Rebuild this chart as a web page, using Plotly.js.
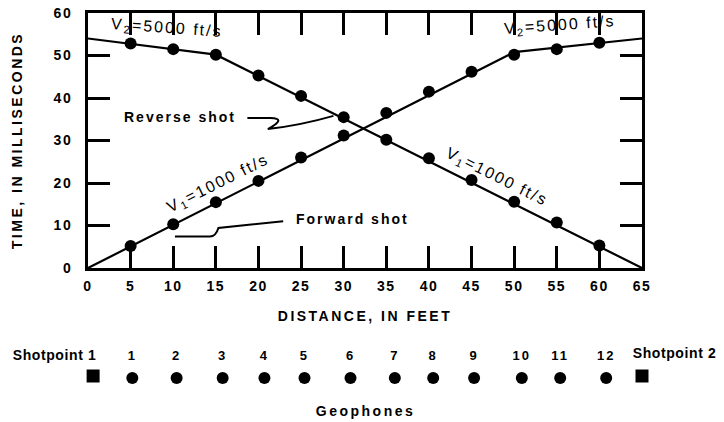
<!DOCTYPE html>
<html>
<head>
<meta charset="utf-8">
<script src="https://cdn.plot.ly/plotly-3.0.1.min.js"></script>
<style>
  html, body { margin: 0; padding: 0; background: #fff; }
  #chart { width: 724px; height: 422px; }
  .xtick text, .ytick text { letter-spacing: 1.5px; }
  .g-xtitle text, .g-ytitle text { letter-spacing: 2.5px; }
  .annotation-text { letter-spacing: 2px; }
  .annotation[data-index="6"] text, .annotation[data-index="7"] text { letter-spacing: 0.6px; }
  .annotation[data-index="8"] text { letter-spacing: 2.5px; }
  .textpoint text { letter-spacing: 2px; }
</style>
</head>
<body>
<div id="chart"></div>
<script>
// Geophone distances from shotpoint 1 (feet)
const distance = [5, 10, 15, 20, 25, 30, 35, 40, 45, 50, 55, 60];

// First-arrival times (ms) picked at each geophone
const forwardTime = [5.2, 10.3, 15.5, 20.5, 26.0, 31.2, 36.5, 41.5, 46.2, 50.2, 51.5, 53.0];
const reverseTime = [52.8, 51.5, 50.2, 45.3, 40.5, 35.5, 30.2, 25.8, 20.7, 15.6, 10.7, 5.3];

// Fitted travel-time segments (V1 = 1000 ft/s, V2 = 5000 ft/s)
const forwardFitX = [0, 50, 65];
const forwardFitY = [0, 50.8, 54];
const reverseFitX = [0, 15, 65];
const reverseFitY = [54, 50.2, 0];

// Spread layout drawn under the plot
const geophoneNumbers = ['1', '2', '3', '4', '5', '6', '7', '8', '9', '10', '11', '12'];
const geophoneX = [5.2, 10.4, 15.8, 20.7, 25.4, 30.8, 36.0, 40.5, 45.3, 50.9, 55.4, 60.8];
const shotpointX = [0.6, 65.0];
const shotpointNames = ['Shotpoint 1', 'Shotpoint 2'];

const xTicks = [0, 5, 10, 15, 20, 25, 30, 35, 40, 45, 50, 55, 60, 65];
const yTicks = [0, 10, 20, 30, 40, 50, 60];

const FONT = 'Liberation Sans, Arial, Helvetica, sans-serif';
const INK = '#000';

// Layout geometry: plot area spans y=13..400; the lower strip (y2) is measured in
// pixels upward from its bottom edge.
const TOP = 13, BOTTOM = 22, H = 422 - TOP - BOTTOM;
const mainBottom = (422 - BOTTOM - 268) / H;
const stripFrac = 0.3;
const stripRange = stripFrac * H;
const rowY = 22, numberY = 43;

const traces = [
  { x: forwardFitX, y: forwardFitY, mode: 'lines', line: { color: INK, width: 2.2 }, hoverinfo: 'skip' },
  { x: reverseFitX, y: reverseFitY, mode: 'lines', line: { color: INK, width: 2.2 }, hoverinfo: 'skip' },
  { x: distance, y: forwardTime, mode: 'markers', marker: { color: INK, size: 12 } },
  { x: distance, y: reverseTime, mode: 'markers', marker: { color: INK, size: 12 } },
  // geophones
  { x: geophoneX, y: geophoneX.map(() => rowY), yaxis: 'y2', mode: 'markers',
    marker: { color: INK, size: 12 }, cliponaxis: false },
  { x: geophoneX, y: geophoneX.map(() => numberY), yaxis: 'y2', mode: 'text',
    text: geophoneNumbers, textposition: 'middle center', cliponaxis: false,
    textfont: { family: FONT, size: 13, color: INK, weight: 'bold' } },
  // shotpoints
  { x: shotpointX, y: shotpointX.map(() => rowY + 2), yaxis: 'y2', mode: 'markers',
    marker: { color: INK, size: 13, symbol: 'square' }, cliponaxis: false }
];

const labelFont = { family: FONT, size: 14, color: INK, weight: 'bold' };
const velFont = { family: FONT, size: 16, color: INK };

const annotations = [
  { x: 9.3, y: 56.4, text: 'V<sub>2</sub>=5000 ft/s', textangle: 4, font: velFont },
  { x: 55.4, y: 57.0, text: 'V<sub>2</sub>=5000 ft/s', textangle: -4, font: velFont },
  { x: 15.3, y: 20.0, text: 'V<sub>1</sub>=1000 ft/s', textangle: -26.5, font: velFont },
  { x: 48.0, y: 21.4, text: 'V<sub>1</sub>=1000 ft/s', textangle: 26.5, font: velFont },
  { x: 10.8, y: 35.5, text: 'Reverse shot', font: labelFont },
  { x: 31.0, y: 11.5, text: 'Forward shot', font: labelFont },
  { x: shotpointX[0], y: 45, yref: 'y2', text: shotpointNames[0], xanchor: 'right', xshift: 13,
    font: { family: FONT, size: 14, color: INK, weight: 'bold' } },
  { x: shotpointX[1], y: 47, yref: 'y2', text: shotpointNames[1], xanchor: 'left', xshift: -19,
    font: { family: FONT, size: 14, color: INK, weight: 'bold' } },
  { x: 0.5, xref: 'paper', y: (400 - 411) / H, yref: 'paper', text: 'Geophones', font: labelFont }
].map(a => Object.assign({ xref: 'x', yref: 'y', showarrow: false, xanchor: 'center', yanchor: 'middle' }, a));

// Hand-drawn leader lines from the labels to the curves
const shapes = [
  { type: 'path', xref: 'x', yref: 'y', line: { color: INK, width: 2 },
    path: 'M 18.7,35.3 L 21.4,35.3 Q 23.4,35.2 21.1,32.7 Q 25.0,33.6 28.8,35.8' },
  { type: 'path', xref: 'x', yref: 'y', line: { color: INK, width: 2 },
    path: 'M 10.2,7.4 L 14.3,7.4 Q 15.0,7.4 15.3,9.4 L 22.9,11.0' }
];

const axisCommon = {
  showline: true, linecolor: INK, linewidth: 3, mirror: 'ticks',
  ticks: 'inside', ticklen: 22, tickwidth: 3, tickcolor: INK,
  showgrid: false, zeroline: false, fixedrange: true,
  tickfont: { family: FONT, size: 14, color: INK, weight: 'bold' }
};

const layout = {
  width: 724, height: 422,
  margin: { l: 88, r: 82, t: TOP, b: BOTTOM },
  paper_bgcolor: '#fff', plot_bgcolor: '#fff',
  showlegend: false,
  xaxis: Object.assign({}, axisCommon, {
    range: [0, 65], tickvals: xTicks, ticktext: xTicks.map(String),
    anchor: 'y', ticklabelstandoff: 3,
    title: { text: 'DISTANCE, IN FEET', standoff: 19,
      font: { family: FONT, size: 14, color: INK, weight: 'bold' } }
  }),
  yaxis: Object.assign({}, axisCommon, {
    range: [0, 60], tickvals: yTicks, ticktext: yTicks.map(String),
    domain: [mainBottom, 1], ticklabelstandoff: 10,
    title: { text: 'TIME, IN MILLISECONDS', standoff: 28,
      font: { family: FONT, size: 14, color: INK, weight: 'bold' } }
  }),
  yaxis2: { domain: [0, stripFrac], range: [0, stripRange], visible: false, fixedrange: true },
  annotations: annotations,
  shapes: shapes
};

Plotly.newPlot('chart', traces, layout, { displayModeBar: false, staticPlot: true });
</script>
</body>
</html>
